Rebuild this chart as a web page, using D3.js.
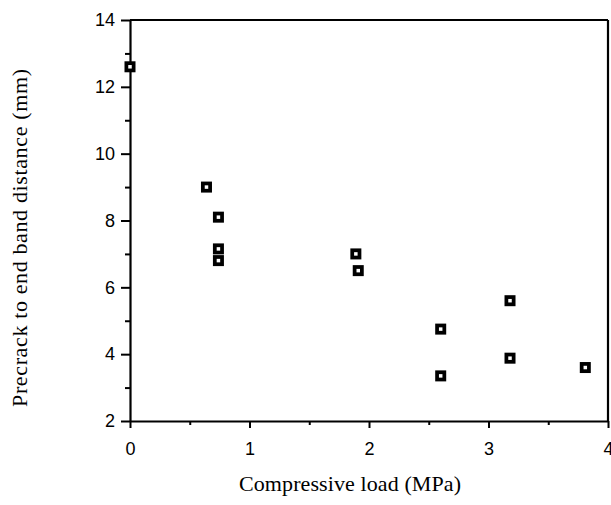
<!DOCTYPE html>
<html>
<head>
<meta charset="utf-8">
<script src="https://cdn.jsdelivr.net/npm/d3@7"></script>
<style>
  body { margin: 0; background: white; }
</style>
</head>
<body>
<div id="container"></div>
<script>
// compressive load (MPa) vs precrack to end band distance (mm)
var loads =     [0.0,  0.64, 0.74, 0.74, 0.74, 1.89, 1.91, 2.60, 2.60, 3.18, 3.18, 3.81];
var distances = [12.6, 9.0,  8.1,  7.15, 6.8,  7.0,  6.5,  4.75, 3.35, 5.6,  3.88, 3.6];
var xTicks = [0, 1, 2, 3, 4];
var yTicks = [2, 4, 6, 8, 10, 12, 14];

var width = 611, height = 505;
var margin = {top: 20, right: 3, bottom: 84, left: 130};
var sans = "'Liberation Sans', Arial, Helvetica, sans-serif";
var serif = "'Liberation Serif', 'Times New Roman', serif";

var svg = d3.select("#container").append("svg")
    .attr("width", width)
    .attr("height", height);

var x = d3.scaleLinear().domain([0, 4]).range([margin.left, width - margin.right]);
var y = d3.scaleLinear().domain([2, 14]).range([height - margin.bottom, margin.top]);

// minor ticks
svg.append("g")
    .attr("transform", "translate(0," + y(2) + ")")
    .call(d3.axisBottom(x).tickValues(d3.range(0.5, 4, 1)).tickSize(4).tickFormat(""))
    .call(function(g) { g.select(".domain").remove(); })
    .selectAll("line").attr("stroke-width", 2);
svg.append("g")
    .attr("transform", "translate(" + x(0) + ",0)")
    .call(d3.axisLeft(y).tickValues(d3.range(3, 14, 2)).tickSize(5).tickFormat(""))
    .call(function(g) { g.select(".domain").remove(); })
    .selectAll("line").attr("stroke-width", 2);

var xAxis = svg.append("g")
    .attr("transform", "translate(0," + y(2) + ")")
    .call(d3.axisBottom(x).tickValues(xTicks).tickSize(7).tickSizeOuter(0)
      .tickPadding(14).tickFormat(d3.format("d")));
var yAxis = svg.append("g")
    .attr("transform", "translate(" + x(0) + ",0)")
    .call(d3.axisLeft(y).tickValues(yTicks).tickSize(9).tickSizeOuter(0)
      .tickPadding(6).tickFormat(d3.format("d")));

[xAxis, yAxis].forEach(function(g) {
  g.attr("font-family", sans).attr("font-size", 18);
  g.select(".domain").attr("stroke-width", 2.2);
  g.selectAll(".tick line").attr("stroke-width", 2);
  g.selectAll(".tick text").attr("fill", "black");
});

// frame top and right
svg.append("line")
    .attr("x1", x(0)).attr("x2", x(4)).attr("y1", y(14)).attr("y2", y(14))
    .attr("stroke", "black").attr("stroke-width", 2.2);
svg.append("line")
    .attr("x1", x(4)).attr("x2", x(4)).attr("y1", y(14)).attr("y2", y(2))
    .attr("stroke", "black").attr("stroke-width", 2.2);

var pts = svg.append("g").selectAll("g")
    .data(loads.map(function(d, i) { return {load: d, dist: distances[i]}; }))
    .enter().append("g")
    .attr("transform", function(d) { return "translate(" + x(d.load) + "," + y(d.dist) + ")"; });
pts.append("rect")
    .attr("x", -5.5).attr("y", -5.5).attr("width", 11).attr("height", 11)
    .attr("fill", "black");
pts.append("rect")
    .attr("x", -1.75).attr("y", -1.75).attr("width", 3.5).attr("height", 3.5)
    .attr("fill", "white");

svg.append("text")
    .attr("x", 350)
    .attr("y", 491)
    .attr("text-anchor", "middle")
    .attr("textLength", 222)
    .attr("lengthAdjust", "spacing")
    .style("font-family", serif)
    .style("font-size", "22px")
    .text("Compressive load (MPa)");

svg.append("text")
    .attr("transform", "translate(27,238) rotate(-90)")
    .attr("text-anchor", "middle")
    .attr("textLength", 338)
    .attr("lengthAdjust", "spacing")
    .style("font-family", serif)
    .style("font-size", "22px")
    .text("Precrack to end band distance (mm)");
</script>
</body>
</html>
